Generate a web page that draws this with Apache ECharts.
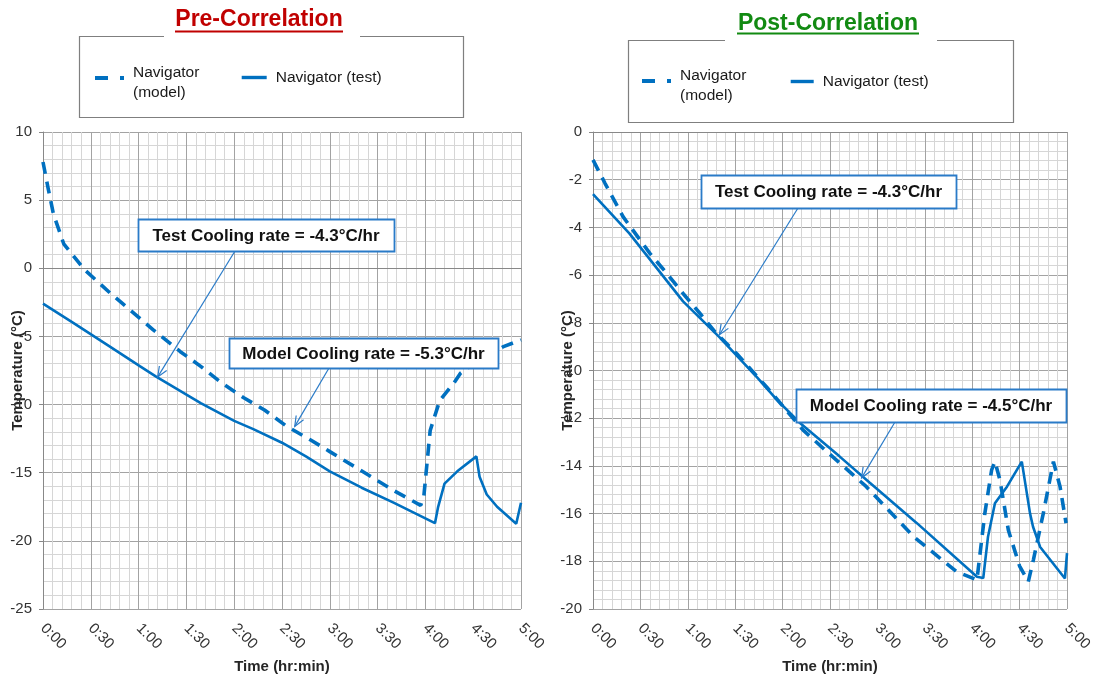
<!DOCTYPE html>
<html><head><meta charset="utf-8">
<script src="https://cdn.jsdelivr.net/npm/echarts@6/dist/echarts.min.js"></script>
<style>html,body{margin:0;padding:0;background:#fff}#c{width:1097px;height:679px}</style>
</head><body><div id="c"></div>
<script>
// ---------- DATA ----------
const xTickLabels = ['0:00','0:30','1:00','1:30','2:00','2:30','3:00','3:30','4:00','4:30','5:00'];
const seriesNames = ['Navigator (model)', 'Navigator (test)'];
const panelTitles = ['Pre-Correlation', 'Post-Correlation'];

// Pre-correlation (minutes, °C)
const preModelTime = [0, 3, 6.5, 13, 26, 42, 61, 69, 86, 99, 112, 126, 139, 153, 168, 180, 199, 220, 237, 239, 243, 249, 258, 262, 275, 289, 300];
const preModelTemp = [7.8, 6.0, 4.0, 1.8, -0.1, -1.8, -3.7, -4.5, -6.1, -7.2, -8.4, -9.5, -10.4, -11.6, -12.6, -13.45, -14.8, -16.3, -17.4, -16.75, -11.9, -9.7, -8.4, -7.7, -6.6, -5.75, -5.25];
const preTestTime = [0, 19, 42, 61, 71, 99, 120, 132, 150, 165, 180, 200, 220, 246, 248, 252, 260, 272, 274, 278.5, 285, 297, 300];
const preTestTemp = [-2.6, -4.0, -5.75, -7.2, -7.95, -9.9, -11.2, -11.8, -12.8, -13.8, -14.9, -16.1, -17.2, -18.7, -17.5, -15.8, -14.9, -13.8, -15.3, -16.6, -17.5, -18.75, -17.2];

// Post-correlation (minutes, °C)
const postModelTime = [0, 7.6, 19, 36, 46.6, 57, 67.6, 78, 91, 110, 133, 148, 173, 203, 230, 243, 245, 248, 252.3, 254.4, 257.6, 262.9, 270, 275.5, 278.7, 285, 291.4, 295.6, 299.4];
const postModelTemp = [-1.17, -2.15, -3.55, -5.09, -5.92, -6.77, -7.6, -8.44, -9.3, -10.7, -12.5, -13.4, -14.87, -16.97, -18.43, -18.78, -17.66, -15.99, -14.17, -13.82, -14.6, -16.7, -18.2, -18.85, -17.95, -15.99, -13.82, -14.87, -16.4];
const postTestTime = [0, 23, 57, 80, 104, 116, 131, 156, 175, 205, 243, 247, 250, 254.4, 262, 271.4, 276.6, 278.5, 283, 298.7, 300];
const postTestTemp = [-2.6, -4.25, -7.1, -8.6, -10.3, -11.2, -12.2, -13.6, -14.7, -16.4, -18.65, -18.7, -16.97, -15.57, -14.87, -13.82, -15.99, -16.55, -17.4, -18.72, -17.66];

// Annotations: text and the data point the arrow points at
const annotationTexts = ['Test Cooling rate = -4.3°C/hr', 'Model Cooling rate = -5.3°C/hr', 'Test Cooling rate = -4.3°C/hr', 'Model Cooling rate = -4.5°C/hr'];
const annotationPanels = [0, 0, 1, 1];
const annotationTargets = [[72, -7.97], [158, -11.6], [80, -8.5], [170, -14.5]];

// ---------- LAYOUT / STYLE ----------
const FONT = '"Liberation Sans", Arial, sans-serif';
const BLUE = '#0070C0';
const BOX_BLUE = '#2a7bc8';
const grids = [
  {left: 43, top: 132, width: 478, height: 477},
  {left: 593, top: 132, width: 474, height: 477}
];
const yRanges = [{min: -25, max: 10, interval: 5}, {min: -20, max: 0, interval: 2}];
const annotationBoxes = [[138, 219, 256, 32], [229, 338, 269, 30], [701, 175, 255, 33], [796, 389, 270, 33]];
const annotationStarts = [[235, 251], [329, 368], [798, 208], [895, 422]];

const zip = (a, b) => a.map((v, i) => [v, b[i]]);

const chart = echarts.init(document.getElementById('c'), null, {renderer: 'canvas'});

function xAxis(i) {
  return {
    type: 'value', gridIndex: i, min: 0, max: 300, interval: 30,
    name: 'Time (hr:min)', nameLocation: 'middle', nameGap: 50, nameMoveOverlap: false,
    nameTextStyle: {fontFamily: FONT, fontWeight: 'bold', fontSize: 15, color: '#262626'},
    axisLine: {show: true, lineStyle: {color: '#888', width: 1}},
    axisTick: {show: false},
    axisLabel: {rotate: -45, margin: 17, fontFamily: FONT, fontSize: 15, color: '#333',
      formatter: v => xTickLabels[Math.round(v / 30)]},
    splitLine: {show: true, lineStyle: {color: '#a3a3a3', width: 1}},
    minorTick: {show: false, splitNumber: 5},
    minorSplitLine: {show: true, lineStyle: {color: '#d6d6d6', width: 1}}
  };
}
function yAxis(i) {
  return {
    type: 'value', gridIndex: i, min: yRanges[i].min, max: yRanges[i].max, interval: yRanges[i].interval,
    name: 'Temperature (°C)', nameLocation: 'middle', nameGap: 18, nameMoveOverlap: false,
    nameTextStyle: {fontFamily: FONT, fontWeight: 'bold', fontSize: 15, color: '#262626'},
    axisLine: {show: true, onZero: false, lineStyle: {color: '#888', width: 1}},
    axisTick: {show: true, length: 4, lineStyle: {color: '#888'}},
    axisLabel: {margin: 11, fontFamily: FONT, fontSize: 15, color: '#333'},
    splitLine: {show: true, lineStyle: {color: '#a3a3a3', width: 1}},
    minorTick: {show: false, splitNumber: 5},
    minorSplitLine: {show: true, lineStyle: {color: '#d6d6d6', width: 1}}
  };
}
function modelSeries(i, t, v) {
  return {name: seriesNames[0], type: 'line', xAxisIndex: i, yAxisIndex: i, data: zip(t, v),
    symbol: 'none', showSymbol: false, z: 3,
    lineStyle: {color: BLUE, width: 3.6, type: [12, 8]}, itemStyle: {color: BLUE}};
}
function testSeries(i, t, v) {
  return {name: seriesNames[1], type: 'line', xAxisIndex: i, yAxisIndex: i, data: zip(t, v),
    symbol: 'none', showSymbol: false, z: 4,
    lineStyle: {color: BLUE, width: 2.6, type: 'solid'}, itemStyle: {color: BLUE}};
}
function legendCfg(name, left, top, itemWidth, isModel) {
  const txt = {fontFamily: FONT, fontSize: 15.5, color: '#1a1a1a', lineHeight: 20, padding: [0, 0, 0, 4]};
  return {
    data: [name], left: left, top: top, orient: 'horizontal', padding: 0, itemGap: 0,
    itemWidth: itemWidth, itemHeight: 14, selectedMode: false,
    formatter: n => n === seriesNames[0] ? '{s| }\n{a|Navigator}\n{a|(model)}' : n,
    textStyle: Object.assign({}, txt, {
      rich: {
        s: {fontFamily: FONT, fontSize: 6, lineHeight: 10, color: 'rgba(0,0,0,0)'},
        a: {fontFamily: FONT, fontSize: 15.5, lineHeight: 20, color: '#1a1a1a'}
      }
    }),
    itemStyle: {color: 'rgba(0,0,0,0)', borderColor: 'rgba(0,0,0,0)', borderWidth: 0, opacity: 0},
    lineStyle: isModel ? {type: [13, 12], width: 4, cap: 'butt', opacity: 1} : {type: 'solid', width: 3.4, opacity: 1}
  };
}

chart.setOption({
  animation: false,
  backgroundColor: '#fff',
  grid: grids.map(g => Object.assign({containLabel: false, outerBoundsMode: 'none'}, g)),
  xAxis: [xAxis(0), xAxis(1)],
  yAxis: [yAxis(0), yAxis(1)],
  legend: [
    legendCfg(seriesNames[0], 93, 53, 29, true),
    legendCfg(seriesNames[1], 240, 67.5, 25, false),
    legendCfg(seriesNames[0], 640, 56, 29, true),
    legendCfg(seriesNames[1], 789, 71.5, 23, false)
  ],
  series: [
    modelSeries(0, preModelTime, preModelTemp),
    testSeries(0, preTestTime, preTestTemp),
    modelSeries(1, postModelTime, postModelTemp),
    testSeries(1, postTestTime, postTestTemp)
  ]
});

// ---------- DECORATION (titles, legend frames, annotations) ----------
const g = [];
const titleSpecs = [
  {x: 259, y: 8, color: '#C00000', ul: [175, 343, 31.5]},
  {x: 828, y: 12, color: '#128a12', ul: [737, 919, 33.5]}
];
titleSpecs.forEach((s, i) => {
  g.push({type: 'text', x: s.x, y: s.y, z: 50,
    style: {text: panelTitles[i], fill: s.color, font: 'bold 23px ' + FONT,
      align: 'center', verticalAlign: 'top', textAlign: 'center', textVerticalAlign: 'top'}});
  g.push({type: 'line', z: 50, shape: {x1: s.ul[0], y1: s.ul[2], x2: s.ul[1], y2: s.ul[2]},
    style: {stroke: s.color, lineWidth: 2}});
});
// legend frames with a gap for the title
const frames = [
  [[164, 36.5], [79.5, 36.5], [79.5, 117.5], [463.5, 117.5], [463.5, 36.5], [360, 36.5]],
  [[725, 40.5], [628.5, 40.5], [628.5, 122.5], [1013.5, 122.5], [1013.5, 40.5], [937, 40.5]]
];
frames.forEach(p => g.push({type: 'polyline', z: 1, shape: {points: p},
  style: {stroke: '#7f7f7f', lineWidth: 1.2, fill: null}}));

annotationTexts.forEach((txt, i) => {
  const b = annotationBoxes[i];
  const tip = chart.convertToPixel({gridIndex: annotationPanels[i]}, annotationTargets[i]);
  const s = annotationStarts[i];
  g.push({type: 'line', z: 99, shape: {x1: s[0], y1: s[1], x2: tip[0], y2: tip[1]},
    style: {stroke: BOX_BLUE, lineWidth: 1.2}});
  const ang = Math.atan2(s[1] - tip[1], s[0] - tip[0]);
  const L = 11, da = 0.4;
  g.push({type: 'polyline', z: 99, shape: {points: [
      [tip[0] + L * Math.cos(ang + da), tip[1] + L * Math.sin(ang + da)],
      [tip[0], tip[1]],
      [tip[0] + L * Math.cos(ang - da), tip[1] + L * Math.sin(ang - da)]]},
    style: {stroke: BOX_BLUE, lineWidth: 1.2, fill: null}});
  g.push({type: 'rect', z: 100, shape: {x: b[0] + 0.5, y: b[1] + 0.5, width: b[2], height: b[3]},
    style: {fill: '#fff', stroke: BOX_BLUE, lineWidth: 1.8}});
  g.push({type: 'text', z: 101, x: b[0] + b[2] / 2, y: b[1] + b[3] / 2 + 1,
    style: {text: txt, fill: '#111', font: 'bold 17px ' + FONT,
      align: 'center', verticalAlign: 'middle', textAlign: 'center', textVerticalAlign: 'middle'}});
});
chart.setOption({graphic: {elements: g}});
</script>
</body></html>
